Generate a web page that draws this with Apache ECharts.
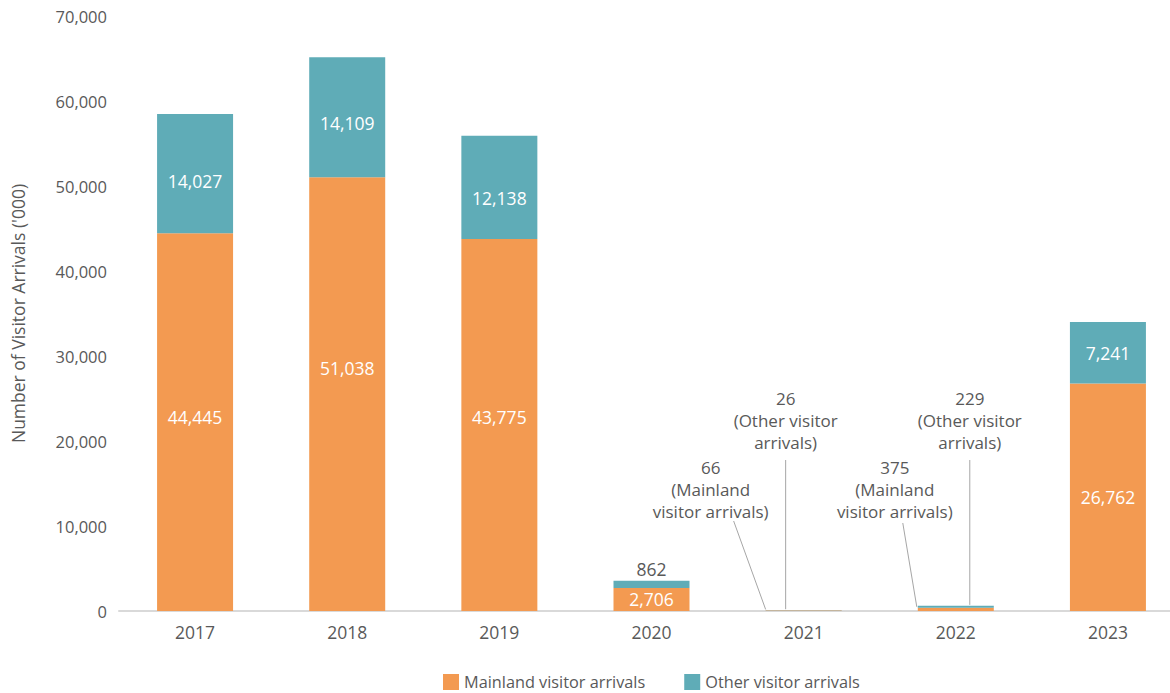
<!DOCTYPE html>
<html>
<head>
<meta charset="utf-8">
<script src="https://cdn.jsdelivr.net/npm/echarts@6/dist/echarts.min.js"></script>
<style>
  html, body { margin: 0; padding: 0; background: #fff; overflow: hidden; }
  /* the plot runs slightly past the right edge of the page */
  #chart { width: 1200px; height: 693px; }
</style>
</head>
<body>
<div id="chart"></div>
<script>
// Visitor arrivals by year, thousands
const years = ['2017', '2018', '2019', '2020', '2021', '2022', '2023'];
const mainlandArrivals = [44445, 51038, 43775, 2706, 66, 375, 26762];
const otherArrivals = [14027, 14109, 12138, 862, 26, 229, 7241];
const yTicks = [0, 10000, 20000, 30000, 40000, 50000, 60000, 70000];

const ORANGE = '#F39A51';
const TEAL = '#5FACB7';
const TEXT = '#595959';
const FONT = '"Open Sans", Lato, sans-serif';

const fmt = v => Number(v).toLocaleString('en-US');

// Years whose bars are too thin for inside labels get call-outs instead
const calloutYears = ['2021', '2022'];
// Small vertical nudges (px) for inside labels
const mainNudge = { '2017': -5, '2018': -26, '2019': -8 };
const otherNudge = { '2017': 7, '2018': 6, '2019': 11 };

function barData(values, kind) {
  return values.map((v, i) => {
    const y = years[i];
    const item = { value: v };
    if (calloutYears.includes(y)) {
      item.label = { show: false };
    } else if (kind === 'other' && y === '2020') {
      item.label = { position: 'top', color: TEXT, distance: 3 };
    } else {
      const n = (kind === 'main' ? mainNudge : otherNudge)[y] || 0;
      if (n) item.label = { offset: [0, n] };
    }
    return item;
  });
}

// Call-out layout: text anchor and leader start relative to the category baseline,
// leader end relative to the top of the segment it points at
const callouts = [
  { cat: 4, series: 'main', text: [-93, -89], from: [-70, -90], toDx: -38 },
  { cat: 4, series: 'other', text: [-18, -158], from: [-18, -151], toDx: -18 },
  { cat: 5, series: 'main', text: [-61, -89], from: [-53, -88], toDx: -39 },
  { cat: 5, series: 'other', text: [14, -158], from: [14, -151], toDx: 14 }
];

function calloutValue(c) {
  return c.series === 'main' ? mainlandArrivals[c.cat] : otherArrivals[c.cat];
}
function calloutTop(c) {
  return c.series === 'main'
    ? mainlandArrivals[c.cat]
    : mainlandArrivals[c.cat] + otherArrivals[c.cat];
}

const chart = echarts.init(document.getElementById('chart'), null, { renderer: 'svg' });

chart.setOption({
  animation: false,
  textStyle: { fontFamily: FONT },
  grid: { left: 119, top: 16, width: 1065, height: 595 },
  legend: {
    left: 438,
    top: 669,
    itemWidth: 16,
    itemHeight: 16,
    itemGap: 39,
    icon: 'rect',
    textStyle: { fontSize: 16.3, color: TEXT, fontFamily: FONT },
    data: ['Mainland visitor arrivals', 'Other visitor arrivals']
  },
  xAxis: {
    type: 'category',
    data: years,
    axisTick: { show: false },
    axisLine: { lineStyle: { color: '#d9d9d9', width: 2 } },
    axisLabel: { fontSize: 17.5, color: TEXT, margin: 12, fontFamily: FONT }
  },
  yAxis: {
    type: 'value',
    min: yTicks[0],
    max: yTicks[yTicks.length - 1],
    interval: yTicks[1] - yTicks[0],
    name: "Number of Visitor Arrivals ('000)",
    nameLocation: 'middle',
    nameGap: 92,
    nameTextStyle: { fontSize: 17.5, color: TEXT, fontFamily: FONT },
    splitLine: { show: false },
    axisLine: { show: false },
    axisTick: { show: false },
    axisLabel: { fontSize: 16.5, color: TEXT, margin: 12, fontFamily: FONT, formatter: fmt }
  },
  series: [
    {
      name: 'Mainland visitor arrivals',
      type: 'bar',
      stack: 'total',
      barWidth: 76,
      itemStyle: { color: ORANGE },
      label: { show: true, position: 'inside', color: '#fff', fontSize: 17.5, fontFamily: FONT,
               formatter: p => fmt(p.value) },
      data: barData(mainlandArrivals, 'main')
    },
    {
      name: 'Other visitor arrivals',
      type: 'bar',
      stack: 'total',
      barWidth: 76,
      itemStyle: { color: TEAL },
      label: { show: true, position: 'inside', color: '#fff', fontSize: 17.5, fontFamily: FONT,
               formatter: p => fmt(p.value) },
      data: barData(otherArrivals, 'other')
    },
    {
      name: 'callouts',
      type: 'custom',
      silent: true,
      z: 5,
      data: callouts.map(c => [c.cat, calloutTop(c)]),
      renderItem: (params, api) => {
        const c = callouts[params.dataIndex];
        const base = api.coord([c.cat, 0]);
        const tip = api.coord([c.cat, calloutTop(c)]);
        const label = fmt(calloutValue(c)) + '\n' +
          (c.series === 'main' ? '(Mainland\nvisitor arrivals)' : '(Other visitor\narrivals)');
        return {
          type: 'group',
          children: [
            {
              type: 'line',
              shape: { x1: base[0] + c.from[0], y1: base[1] + c.from[1], x2: tip[0] + c.toDx, y2: tip[1] - 1 },
              style: { stroke: '#a6a6a6', lineWidth: 1 }
            },
            {
              type: 'text',
              x: base[0] + c.text[0],
              y: base[1] + c.text[1],
              style: {
                text: label, align: 'center', verticalAlign: 'bottom',
                fontSize: 17, lineHeight: 22, fill: TEXT, fontFamily: FONT
              }
            }
          ]
        };
      }
    }
  ]
});
</script>
</body>
</html>
